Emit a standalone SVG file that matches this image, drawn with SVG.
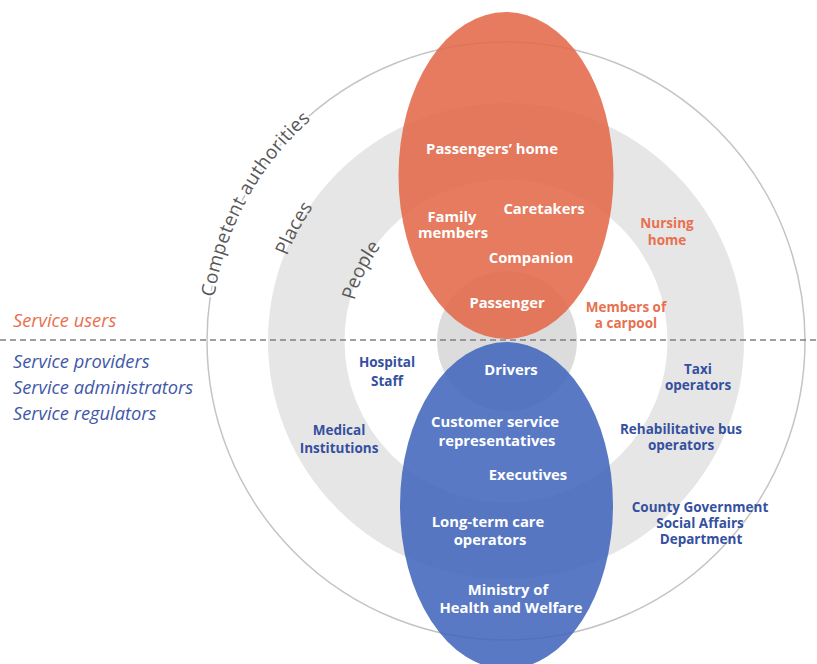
<svg xmlns="http://www.w3.org/2000/svg" width="817" height="664" viewBox="0 0 817 664">
<style>
  .node { font-family: "Open Sans", "Liberation Sans", sans-serif; font-weight: bold; text-anchor: middle; }
  .in { fill: #ffffff; font-size: 14.8px; }
  .outB { fill: #34509f; font-size: 13.5px; }
  .outO { fill: #e8704f; font-size: 13.5px; }
  .side { font-family: "Open Sans", "Liberation Sans", sans-serif; font-style: italic; font-size: 18.3px; }
  .arc { font-family: "Open Sans", "Liberation Sans", sans-serif; font-size: 19px; fill: #595959; }
  .halo { stroke: #ffffff; stroke-width: 4px; paint-order: stroke; stroke-linejoin: round; }
</style>
<defs>
  <path id="pComp" d="M216.8,399.3 A295,295 0 0 1 398.4,66.3"/>
  <path id="pPlaces" d="M273.3,308.3 A235,235 0 0 1 348.8,166.4"/>
  <path id="pPeople" d="M349.9,324.6 A157,157 0 0 1 396.9,228.1"/>
</defs>
<rect width="817" height="664" fill="#ffffff"/>

<g id="rings">
  <circle cx="506" cy="341" r="199.75" fill="none" stroke="#e6e6e6" stroke-width="76.5"/>
  <circle cx="507" cy="341" r="70" fill="#dcdcdc"/>
  <circle cx="506" cy="341" r="299" fill="none" stroke="#c4c4c4" stroke-width="1.5"/>
</g>

<g id="ring-labels">
  <text class="arc halo"><textPath href="#pComp" startOffset="50%" text-anchor="middle" letter-spacing="0.3">Competent  authorities</textPath></text>
  <text class="arc"><textPath href="#pPlaces" startOffset="50%" text-anchor="middle">Places</textPath></text>
  <text class="arc"><textPath href="#pPeople" startOffset="50%" text-anchor="middle">People</textPath></text>
</g>

<g id="users-ellipse">
  <ellipse cx="506" cy="175.5" rx="107.5" ry="163.5" fill="#e2694a" fill-opacity="0.88"/>
</g>
<g id="providers-ellipse">
  <ellipse cx="506.5" cy="505.5" rx="106.5" ry="163.5" fill="#4367bc" fill-opacity="0.88"/>
</g>

<g id="connectors">
  <line x1="0" y1="340" x2="817" y2="340" stroke="#808080" stroke-width="1.3" stroke-dasharray="6,4"/>
</g>

<g id="side-labels">
  <text class="side" x="13" y="327" fill="#e8704f">Service users</text>
  <text class="side" x="13" y="368" fill="#3f58a8">Service providers</text>
  <text class="side" x="13" y="394" fill="#3f58a8">Service administrators</text>
  <text class="side" x="13" y="420" fill="#3f58a8">Service regulators</text>
</g>

<g id="passengers-home"><text class="node in" x="492" y="154">Passengers’ home</text></g>
<g id="caretakers"><text class="node in" x="544" y="214">Caretakers</text></g>
<g id="family-members"><text class="node in" x="452" y="222">Family<tspan x="453" y="238">members</tspan></text></g>
<g id="companion"><text class="node in" x="531" y="263">Companion</text></g>
<g id="passenger"><text class="node in" x="507" y="308">Passenger</text></g>
<g id="nursing-home"><text class="node outO" x="667" y="228">Nursing<tspan x="667" y="245">home</tspan></text></g>
<g id="carpool"><text class="node outO" x="626" y="312">Members of<tspan x="626" y="328">a carpool</tspan></text></g>

<g id="drivers"><text class="node in" x="511" y="375">Drivers</text></g>
<g id="customer-service"><text class="node in" x="495" y="427">Customer service<tspan x="497" y="446">representatives</tspan></text></g>
<g id="executives"><text class="node in" x="528" y="480">Executives</text></g>
<g id="long-term-care"><text class="node in" x="488" y="527">Long-term care<tspan x="490" y="545">operators</tspan></text></g>
<g id="ministry"><text class="node in" x="508" y="595">Ministry of<tspan x="511" y="613">Health and Welfare</tspan></text></g>

<g id="hospital-staff"><text class="node outB" x="387" y="367">Hospital<tspan x="387" y="386">Staff</tspan></text></g>
<g id="medical-institutions"><text class="node outB" x="339" y="435">Medical<tspan x="339" y="453">Institutions</tspan></text></g>
<g id="taxi-operators"><text class="node outB" x="698" y="374">Taxi<tspan x="698" y="390">operators</tspan></text></g>
<g id="rehab-bus"><text class="node outB" x="681" y="434">Rehabilitative bus<tspan x="681" y="450">operators</tspan></text></g>
<g id="county-gov"><text class="node outB" x="700" y="512">County Government<tspan x="700" y="528">Social Affairs</tspan><tspan x="701" y="544">Department</tspan></text></g>
</svg>
